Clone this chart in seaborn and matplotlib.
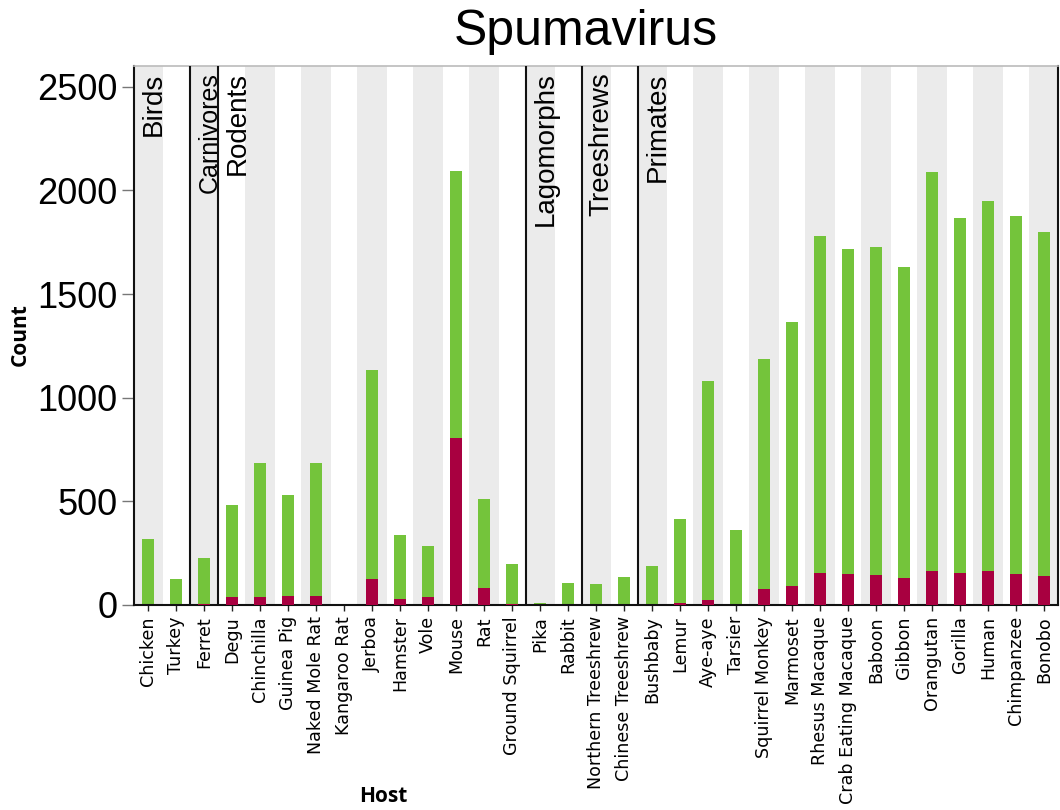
import matplotlib
matplotlib.use("Agg")
import matplotlib.pyplot as plt
import seaborn as sns
import pandas as pd

# Host species, ordered by clade
hosts = ["Chicken", "Turkey", "Ferret",
         "Degu", "Chinchilla", "Guinea Pig", "Naked Mole Rat", "Kangaroo Rat",
         "Jerboa", "Hamster", "Vole", "Mouse", "Rat", "Ground Squirrel",
         "Pika", "Rabbit", "Northern Treeshrew", "Chinese Treeshrew",
         "Bushbaby", "Lemur", "Aye-aye", "Tarsier", "Squirrel Monkey", "Marmoset",
         "Rhesus Macaque", "Crab Eating Macaque", "Baboon", "Gibbon", "Orangutan",
         "Gorilla", "Human", "Chimpanzee", "Bonobo"]

# Clade names and how many hosts each one holds
groups = ["Birds", "Carnivores", "Rodents", "Lagomorphs", "Treeshrews", "Primates"]
group_sizes = [2, 1, 11, 2, 2, 15]

# Total hit counts per host (green) and the subset shown in red
total_counts = [319, 126, 227,
                480, 683, 530, 683, 0,
                1133, 336, 285, 2094, 512, 198,
                8, 106, 100, 137,
                187, 417, 1080, 364, 1187, 1366,
                1780, 1716, 1727, 1630, 2089,
                1868, 1947, 1878, 1799]
red_counts = [0, 0, 6,
              37, 37, 42, 42, 0,
              126, 31, 37, 804, 80, 3,
              0, 0, 0, 0,
              0, 9, 26, 2, 76, 93,
              155, 148, 143, 130, 163,
              153, 164, 148, 140]

GREEN = "#74C43B"
RED = "#A80040"

df = pd.DataFrame({"Host": hosts, "Total": total_counts, "Red": red_counts})

sns.set_style("white")
plt.rcParams["font.family"] = ["Liberation Sans", "DejaVu Sans"]
plt.rcParams["text.color"] = "black"
plt.rcParams["xtick.color"] = "black"
plt.rcParams["ytick.color"] = "black"
plt.rcParams["axes.labelcolor"] = "black"

W, H = 1060, 810
fig = plt.figure(figsize=(W / 100, H / 100), dpi=100)
ax_left, ax_right, ax_top, ax_bottom = 134, 1058, 66, 605
ax = fig.add_axes([ax_left / W, 1 - ax_bottom / H,
                   (ax_right - ax_left) / W, (ax_bottom - ax_top) / H])

# alternating background bands
for i in range(len(hosts)):
    if i % 2 == 0:
        ax.axvspan(i - 0.52, i + 0.52, color="#EBEBEB", lw=0, zorder=0)

sns.barplot(data=df, x="Host", y="Total", color=GREEN, saturation=1,
            width=0.43, linewidth=0, ax=ax, zorder=2)
sns.barplot(data=df, x="Host", y="Red", color=RED, saturation=1,
            width=0.43, linewidth=0, ax=ax, zorder=3)

ax.set_xlim(-0.5, len(hosts) - 0.5)
ax.set_ylim(0, 2600)
ax.set_yticks([0, 500, 1000, 1500, 2000, 2500])
ax.tick_params(axis="y", labelsize=26, length=9, width=1, color="#777777",
               pad=3, left=True)
ax.tick_params(axis="x", length=4, width=1, color="#222222", pad=4, bottom=True)
ax.set_xticks(range(len(hosts)))
ax.set_xticklabels(hosts, rotation=90, fontsize=12.6,
                   family="DejaVu Sans", va="top", ha="center")

for side in ["left", "bottom", "right"]:
    ax.spines[side].set_color("#111111")
    ax.spines[side].set_linewidth(1.5)
ax.spines["top"].set_color("#BBBBBB")
ax.spines["top"].set_linewidth(1.2)

# clade separators and clade labels
start = 0
for name, size in zip(groups, group_sizes):
    if start > 0:
        ax.axvline(start - 0.5, color="#111111", lw=1.5, zorder=4)
    fs = 18 if name == "Carnivores" else 20
    ax.text(start + 0.2, 0.988, name, transform=ax.get_xaxis_transform(),
            rotation=90, ha="center", va="top", fontsize=fs, zorder=5)
    start += size

ax.set_xlabel("")
ax.set_ylabel("")
fig.text(20 / W, 1 - 335 / H, "Count", fontsize=15, fontweight="bold",
         rotation=90, family=["Open Sans", "DejaVu Sans"], ha="center", va="center")
fig.text(383 / W, 1 - 796 / H, "Host", fontsize=15, fontweight="bold",
         family=["Open Sans", "DejaVu Sans"], ha="center", va="center")
fig.text(586 / W, 1 - 32 / H, "Spumavirus", fontsize=36, ha="center", va="center")

fig.savefig("out.png", dpi=100)
